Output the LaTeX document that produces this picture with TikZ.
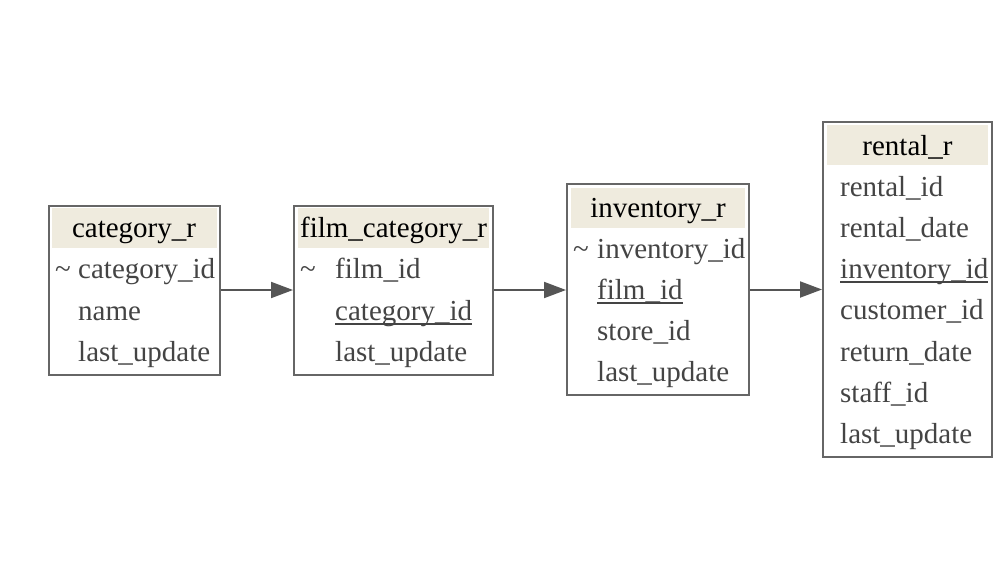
\documentclass[tikz,border=0pt]{standalone}
\usepackage{fontspec}
\setmainfont{Liberation Serif}
\usetikzlibrary{arrows.meta}
\definecolor{bordergray}{HTML}{666666}
\definecolor{textgray}{HTML}{444444}
\definecolor{hdrfill}{HTML}{EFEBDE}
\definecolor{edgegray}{HTML}{555555}
\newsavebox{\ulbox}
\newcommand{\keyul}[1]{\sbox{\ulbox}{#1}\rlap{\raisebox{-4.5pt}{\rule{\wd\ulbox}{1.6pt}}}\usebox{\ulbox}}
\begin{document}
\begin{tikzpicture}[x=1pt,y=-1pt,
  tbl/.style={draw=bordergray, line width=2pt, rectangle, inner sep=0pt},
  hdr/.style={fill=hdrfill, rectangle, inner sep=0pt, anchor=north west, minimum height=40pt},
  title/.style={anchor=base, inner sep=0pt, text=black, font=\fontsize{29}{29}\selectfont},
  field/.style={anchor=base west, inner sep=0pt, text=textgray, font=\fontsize{29}{29}\selectfont},
  conn/.style={draw=edgegray, line width=2pt, -{Triangle[length=22pt,width=16pt]}}
]
\useasboundingbox (0,0) rectangle (1000,580);

% category_r
\node[hdr, minimum width=165pt] (cath) at (52,208) {};
\node[tbl, minimum width=171pt, minimum height=169pt] (cat) at (134,290) {};
\node[title] (catt) at (134,237) {category\_r};
\node[field] (catf0) at (55,278.5) {\textasciitilde};
\node[field] (catf1) at (78,278.5) {category\_id};
\node[field] (catf2) at (78,320) {name};
\node[field] (catf3) at (78,361.5) {last\_update};

% film_category_r
\node[hdr, minimum width=191pt] (fch) at (298,208) {};
\node[tbl, minimum width=199pt, minimum height=169pt] (fc) at (393.5,290) {};
\node[title] (fct) at (393.5,237) {film\_category\_r};
\node[field] (fcf0) at (300,278.5) {\textasciitilde};
\node[field] (fcf1) at (335,278.5) {film\_id};
\node[field] (fcf2) at (335,320) {\keyul{category\_id}};
\node[field] (fcf3) at (335,361.5) {last\_update};

% inventory_r
\node[hdr, minimum width=174pt] (invh) at (571,188) {};
\node[tbl, minimum width=182pt, minimum height=211pt] (inv) at (658,289.5) {};
\node[title] (invt) at (658,217) {inventory\_r};
\node[field] (invf0) at (573,258.5) {\textasciitilde};
\node[field] (invf1) at (597,258.5) {inventory\_id};
\node[field] (invf2) at (597,299) {\keyul{film\_id}};
\node[field] (invf3) at (597,340.5) {store\_id};
\node[field] (invf4) at (597,381.5) {last\_update};

% rental_r
\node[hdr, minimum width=161pt] (renh) at (827,125) {};
\node[tbl, minimum width=169pt, minimum height=335pt] (ren) at (907.5,289.5) {};
\node[title] (rent) at (907.5,156) {rental\_r};
\node[field] (renf1) at (840,196.5) {rental\_id};
\node[field] (renf2) at (840,237.5) {rental\_date};
\node[field] (renf3) at (840,278) {\keyul{inventory\_id}};
\node[field] (renf4) at (840,319.5) {customer\_id};
\node[field] (renf5) at (840,361) {return\_date};
\node[field] (renf6) at (840,402.5) {staff\_id};
\node[field] (renf7) at (840,443.5) {last\_update};

% connectors
\draw[conn] (cat.east) -- (fc.west);
\draw[conn] (fc.east) -- (fc.east -| inv.west);
\draw[conn] (inv.east) -- (ren.west);
\end{tikzpicture}
\end{document}
